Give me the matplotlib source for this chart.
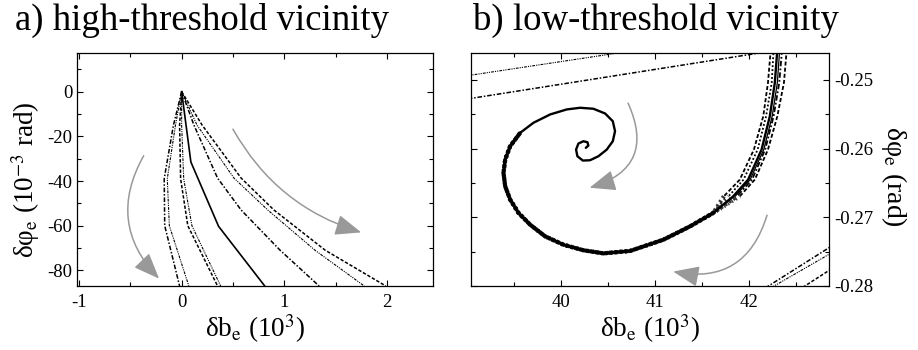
import matplotlib
matplotlib.use("Agg")
import matplotlib.pyplot as plt
import numpy as np
from matplotlib.patches import FancyArrowPatch
from matplotlib.ticker import MultipleLocator

plt.rcParams['font.family'] = ['Liberation Serif', 'DejaVu Serif']
plt.rcParams['mathtext.fontset'] = 'stix'
plt.rcParams['axes.unicode_minus'] = False

# ---- a) trajectories leaving the high threshold point
a_y = [0, -15, -39, -60, -87]
a_x_dashdot_l = [0, -0.08, -0.17, -0.165, -0.02]
a_x_dashdotdot_l = [0, -0.06, -0.14, -0.12, 0.07]
a_x_dashed = [0, -0.02, -0.01, 0.06, 0.35]
a_x_dashdotdot_m = [0, 0.0, 0.02, 0.10, 0.38]

a_solid_x = [0, 0.09, 0.36, 0.81]
a_solid_y = [0, -31.5, -60.3, -87]

a_right_y = [0, -15, -38.7, -53, -71, -87]
a_x_dashdot_r = [0, 0.12, 0.35, 0.58, 0.96, 1.34]
a_x_dashdotdot_r = [0, 0.15, 0.51, 0.84, 1.30, 1.78]
a_x_dotted_r = [0, 0.20, 0.58, 0.90, 1.40, 1.99]

# ---- b) spiral around the low threshold point (centre -> outside)
spiral_x = [40.260, 40.287, 40.277, 40.234, 40.181, 40.156, 40.170, 40.228,
            40.305, 40.394, 40.483, 40.547, 40.571, 40.547, 40.465, 40.340,
            40.199, 40.057, 39.880, 39.702, 39.561, 39.454, 39.401, 39.383,
            39.401, 39.454, 39.543, 39.667, 39.827, 40.021, 40.234, 40.447,
            40.731, 41.085, 41.369, 41.617, 41.830, 41.989, 42.132, 42.220,
            42.273, 42.300]
spiral_y = [-0.25990, -0.25956, -0.25908, -0.25894, -0.25927, -0.26015,
            -0.26112, -0.26175, -0.26170, -0.26112, -0.26015, -0.25894,
            -0.25748, -0.25602, -0.25490, -0.25421, -0.25407, -0.25431,
            -0.25504, -0.25625, -0.25771, -0.25966, -0.26160, -0.26354,
            -0.26550, -0.26743, -0.26937, -0.27108, -0.27278, -0.27399,
            -0.27480, -0.27525, -0.27490, -0.27327, -0.27133, -0.26937,
            -0.26695, -0.26452, -0.26015, -0.25529, -0.25042, -0.24557]

# neighbouring trajectories before they fall onto the spiral
branch_y = [-0.24557, -0.25042, -0.25529, -0.26015, -0.26452, -0.26695]
branch_dashed_l = [42.23, 42.20, 42.15, 42.05, 41.90, 41.73]
branch_dotted_l = [42.26, 42.24, 42.18, 42.09, 41.94, 41.78]
branch_solid_r = [42.325, 42.30, 42.245, 42.155, 42.01, 41.85]
branch_dashdot_r = [42.35, 42.32, 42.26, 42.17, 42.03, 41.87]
branch_dashed_r = [42.40, 42.37, 42.30, 42.20, 42.06, 41.90]

# trajectories passing through the corners
tl_dashdotdot_x = [38.9, 40.7]
tl_dashdotdot_y = [-0.2496, -0.2459]
tl_dashdot_x = [38.9, 42.2]
tl_dashdot_y = [-0.2530, -0.2459]
br_dashdot_x = [42.17, 42.90]
br_dashdot_y = [-0.2803, -0.2740]
br_dashdotdot_x = [42.24, 42.90]
br_dashdotdot_y = [-0.2802, -0.2750]
br_dashed_x = [42.57, 42.90]
br_dashed_y = [-0.2802, -0.2773]

DASH = (0, (2.2, 1.2))
DOT = (0, (1, 1.2))
DASHDOT = (0, (3, 1.2, 1, 1.2))
DASHDOTDOT = (0, (2.5, 1, 1, 1, 1, 1))
GREY = '#999999'

fig = plt.figure(figsize=(9.18, 3.5), dpi=100)
ax1 = fig.add_axes([77 / 918, 64 / 350, 356 / 918, 233 / 350])
ax2 = fig.add_axes([471.3 / 918, 64 / 350, 357.7 / 918, 233 / 350])


def style_axes(ax):
    ax.tick_params(which='both', direction='in', top=True, bottom=True,
                   left=True, right=True, labelsize=13.5, width=0.8)
    ax.tick_params(which='major', length=4.5)
    ax.tick_params(which='minor', length=3)
    for s in ax.spines.values():
        s.set_linewidth(0.9)


def arrow(ax, start, end, rad):
    p = FancyArrowPatch(start, end, connectionstyle='arc3,rad=%s' % rad,
                        arrowstyle='-|>,head_length=1.0,head_width=0.4',
                        mutation_scale=16, color=GREY, lw=1.1,
                        shrinkA=0, shrinkB=0, zorder=5)
    ax.add_patch(p)


# ---- panel a
ax1.plot(a_x_dashdot_l, a_y, color='k', lw=1.1, ls=DASHDOT)
ax1.plot(a_x_dashdotdot_l, a_y, color='k', lw=0.8, ls=DASHDOTDOT)
ax1.plot(a_x_dashed, a_y, color='k', lw=1.1, ls=DASH)
ax1.plot(a_x_dashdotdot_m, a_y, color='k', lw=0.8, ls=DASHDOTDOT)
ax1.plot(a_solid_x, a_solid_y, color='k', lw=1.2)
ax1.plot(a_x_dashdot_r, a_right_y, color='k', lw=1.1, ls=DASHDOT)
ax1.plot(a_x_dashdotdot_r, a_right_y, color='k', lw=0.8, ls=DASHDOTDOT)
ax1.plot(a_x_dotted_r, a_right_y, color='k', lw=1.1, ls=DASH)

arrow(ax1, (-0.37, -28.7), (-0.22, -83.7), 0.37)
arrow(ax1, (0.50, -16.8), (1.75, -63.0), 0.2)

ax1.set_xlim(-1.02, 2.45)
ax1.set_ylim(-87, 17.3)
ax1.xaxis.set_major_locator(MultipleLocator(1))
ax1.xaxis.set_minor_locator(MultipleLocator(0.5))
ax1.yaxis.set_major_locator(MultipleLocator(20))
ax1.yaxis.set_minor_locator(MultipleLocator(10))
style_axes(ax1)
ax1.tick_params(axis='x', pad=6)
ax1.set_xlabel('δb$_\\mathrm{e}$ (10$^3$)', fontsize=19.5, labelpad=1)
ax1.set_ylabel('δφ$_\\mathrm{e}$ (10$^{-3}$ rad)', fontsize=19.5, labelpad=4)
ax1.yaxis.label.set_y(0.455)

# ---- panel b
ax2.plot(spiral_x, spiral_y, color='k', lw=1.7, solid_capstyle='round')
# the other trajectories run onto the outer turn of the spiral
outer = slice(35, 19, -1)
ax2.plot(spiral_x[outer], spiral_y[outer], color='k', lw=2.3,
         solid_capstyle='round')
grain = [(0, (0.5, 0.7)), (0.3, (0.4, 0.9)), (0.6, (0.6, 0.6)),
         (0.2, (0.3, 0.8))]
for bx, ls, g in zip([branch_dashed_l, branch_dotted_l,
                      branch_dashdot_r, branch_dashed_r],
                     [DASH, DOT, DASHDOT, DASH], grain):
    ax2.plot(bx, branch_y, color='k', lw=1.3, ls=ls)
    ax2.plot([bx[-1]] + spiral_x[outer], [branch_y[-1]] + spiral_y[outer],
             color='k', lw=3.0, ls=g, alpha=0.8)
ax2.plot(branch_solid_r, branch_y, color='k', lw=0.9)

ax2.plot(tl_dashdotdot_x, tl_dashdotdot_y, color='k', lw=0.8, ls=DASHDOTDOT)
ax2.plot(tl_dashdot_x, tl_dashdot_y, color='k', lw=1.1, ls=DASHDOT)
ax2.plot(br_dashdot_x, br_dashdot_y, color='k', lw=1.1, ls=DASHDOT)
ax2.plot(br_dashdotdot_x, br_dashdotdot_y, color='k', lw=0.8, ls=DASHDOTDOT)
ax2.plot(br_dashed_x, br_dashed_y, color='k', lw=1.1, ls=DASH)

arrow(ax2, (40.71, -0.2534), (40.30, -0.2657), -0.57)
arrow(ax2, (42.19, -0.2697), (41.19, -0.2779), -0.45)

ax2.set_xlim(39.04, 42.85)
ax2.set_ylim(-0.28, -0.2461)
ax2.xaxis.set_major_locator(MultipleLocator(1))
ax2.xaxis.set_minor_locator(MultipleLocator(0.5))
ax2.yaxis.set_major_locator(MultipleLocator(0.01))
ax2.yaxis.set_minor_locator(MultipleLocator(0.005))
ax2.yaxis.set_major_formatter(plt.FuncFormatter(lambda v, p: '%.2f' % v))
style_axes(ax2)
ax2.tick_params(axis='x', pad=6)
ax2.tick_params(axis='y', labelleft=False, labelright=True)
ax2.yaxis.set_label_position('right')
ax2.set_xlabel('δb$_\\mathrm{e}$ (10$^3$)', fontsize=19.5, labelpad=1)
ax2.set_ylabel('δφ$_\\mathrm{e}$ (rad)', fontsize=20, rotation=270,
               labelpad=26)
ax2.yaxis.label.set_y(0.468)

fig.text(15 / 918, 1 - 29.5 / 350, 'a) high-threshold vicinity',
         fontsize=26.5, va='baseline', ha='left')
fig.text(473 / 918, 1 - 29.5 / 350, 'b) low-threshold vicinity',
         fontsize=26.5, va='baseline', ha='left')

fig.savefig('out.png', dpi=100)
